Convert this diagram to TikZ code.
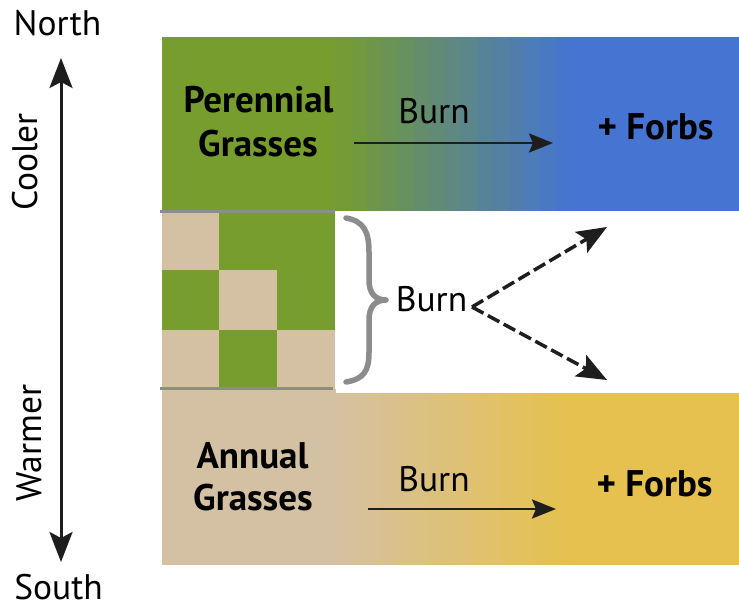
\documentclass[tikz,border=0pt]{standalone}
\usepackage{fontspec}
\setmainfont{PT Sans}
\usetikzlibrary{arrows.meta}
\definecolor{grassgreen}{RGB}{118,157,46}
\definecolor{forbblue}{RGB}{70,116,211}
\definecolor{annualtan}{RGB}{212,193,163}
\definecolor{forbyellow}{RGB}{230,193,80}
\definecolor{linegray}{RGB}{140,140,140}
\definecolor{ink}{RGB}{30,30,30}
\begin{document}
\begin{tikzpicture}[x=1pt,y=-1pt,
  lbl/.style={inner sep=0pt, font=\fontsize{35.5}{42}\selectfont, text=black},
  blbl/.style={inner sep=0pt, font=\fontsize{37}{44}\selectfont\bfseries, text=black},
  axisarrow/.style={draw=ink, line width=3pt, {Stealth[length=30pt,width=23pt,inset=6pt]}-{Stealth[length=30pt,width=23pt,inset=6pt]}},
  burnarrow/.style={draw=ink, line width=2.5pt, -{Stealth[length=24pt,width=19pt,inset=4pt]}},
  dasharrow/.style={draw=ink, line width=3.5pt, dash pattern=on 13pt off 5pt, -{Stealth[length=30pt,width=24pt,inset=6pt]}},
  grayline/.style={draw=linegray, line width=3pt},
  bracestyle/.style={draw=linegray, line width=5.5pt, line cap=round, line join=round}
]
\useasboundingbox (0,0) rectangle (739,607);
\fill[white] (0,0) rectangle (739,607);

% top band
\fill[grassgreen] (161.7,36.7) rectangle (336,211);
\foreach \i in {0,...,14}{
  \pgfmathtruncatemacro\p{100-(\i+0.5)*100/15}
  \pgfmathsetmacro\xa{335+\i*237/15}
  \fill[grassgreen!\p!forbblue] (\xa,36.7) rectangle ({\xa+16.3},211);
}
\fill[forbblue] (572,36.7) rectangle (739,211);

% bottom band
\fill[annualtan] (161.7,389) rectangle (336,565);
\foreach \i in {0,...,14}{
  \pgfmathtruncatemacro\p{100-(\i+0.5)*100/15}
  \pgfmathsetmacro\xa{335+\i*227/15}
  \fill[annualtan!\p!forbyellow] (\xa,393) rectangle ({\xa+15.6},565);
}
\fill[forbyellow] (562,393) rectangle (739,565);

% checkerboard
\fill[annualtan] (161.7,211) rectangle (218.5,270);
\fill[grassgreen] (218.5,211) rectangle (335,270);
\fill[grassgreen] (161.7,270) rectangle (218.5,330);
\fill[annualtan] (218.5,270) rectangle (276.5,330);
\fill[grassgreen] (276.5,270) rectangle (335,330);
\fill[annualtan] (161.7,330) rectangle (218.5,389);
\fill[grassgreen] (218.5,330) rectangle (277,389);
\fill[annualtan] (277,330) rectangle (335,389);
\draw[grayline] (160,211.5) -- (335,211.5);
\draw[grayline] (160,388.5) -- (333,388.5);

% brace
\draw[bracestyle] (346,218) .. controls (364,221) and (369,232) .. (369,252)
  -- (369,280) .. controls (369,293) and (375,300) .. (386,300)
  .. controls (375,300) and (369,307) .. (369,320)
  -- (369,352) .. controls (369,371) and (364,379) .. (346,382);

% axis
\coordinate (axtop) at (61,58);
\coordinate (axbot) at (61,562);
\draw[axisarrow] (axtop) -- (axbot);
\node[lbl, anchor=base] (north) at (57.5,36) {North};
\node[lbl, anchor=base] (south) at (58.5,599) {South};
\node[lbl, rotate=90] (cooler) at (25,162) {Cooler};
\node[lbl, rotate=90] (warmer) at (29.5,443) {Warmer};

% top row
\node[blbl, anchor=base] (per) at (258.5,113) {Perennial};
\node[blbl, anchor=base] (pgr) at (258,157) {Grasses};
\node[lbl, anchor=base] (burn1) at (434,124) {Burn};
\node[blbl, anchor=base] (forbs1) at (655.5,140) {+ Forbs};
\coordinate (a1s) at (354,143);
\coordinate (a1e) at (553,143);
\draw[burnarrow] (a1s) -- (a1e);

% middle row
\node[lbl, anchor=base] (burn2) at (431.5,311) {Burn};
\coordinate (fork) at (472,307);
\coordinate (up) at (607,227);
\coordinate (down) at (607,380);
\draw[dasharrow] (fork) -- (up);
\draw[dasharrow] (fork) -- (down);

% bottom row
\node[blbl, anchor=base] (ann) at (252.5,468) {Annual};
\node[blbl, anchor=base] (agr) at (253,510) {Grasses};
\node[lbl, anchor=base] (burn3) at (434,491) {Burn};
\node[blbl, anchor=base] (forbs2) at (654.5,496) {+ Forbs};
\coordinate (a3s) at (368,509);
\coordinate (a3e) at (556,509);
\draw[burnarrow] (a3s) -- (a3e);
\end{tikzpicture}
\end{document}
